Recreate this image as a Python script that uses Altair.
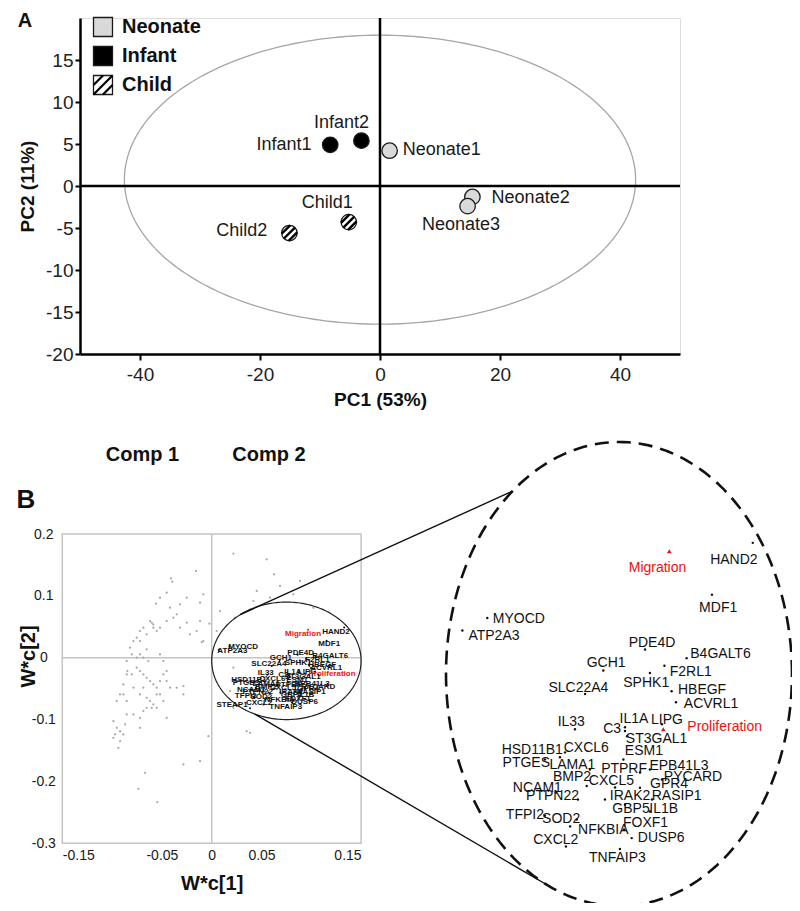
import altair as alt
import numpy as np
import pandas as pd

FONT = "Liberation Sans"

# ---------------- Panel A : PCA score plot ----------------
sample_names = ["Neonate1", "Neonate2", "Neonate3", "Infant1", "Infant2", "Child1", "Child2"]
sample_group = ["Neonate", "Neonate", "Neonate", "Infant", "Infant", "Child", "Child"]
pc1 = [1.6, 15.4, 14.6, -8.3, -3.1, -5.2, -15.1]
pc2 = [4.2, -1.3, -2.4, 4.9, 5.4, -4.3, -5.6]
label_pc1 = [3.8, 18.6, 13.5, -11.4, -6.4, -8.8, -18.8]
label_pc2 = [4.3, -1.4, -4.6, 4.9, 7.5, -2.0, -5.4]
label_side = ["left", "left", "center", "right", "center", "center", "right"]
groups = ["Neonate", "Infant", "Child"]
group_fill = ["#d9d9d9", "#000000", "#ffffff"]
pc1_ticks = [-40, -20, 0, 20, 40]
pc2_ticks = [-20, -15, -10, -5, 0, 5, 10, 15]
A_ELLIPSE = (0.0, 0.75, 42.6, 17.2)  # centre x, centre y, radius x, radius y

# ---------------- Panel B : loadings ----------------
load_x = [-0.0408, -0.0395, -0.0157, -0.0559, -0.0519, -0.0452, -0.0418, -0.0318, -0.0251, -0.0084,
          -0.0117, -0.0619, -0.0602, -0.0586, -0.0686, -0.0720, -0.0753, -0.0786, -0.0720, -0.0653,
          -0.0586, -0.0552, -0.0519, -0.0452, -0.0385, -0.0351, -0.0318, -0.0251, -0.0117, -0.0084,
          -0.0151, -0.0218, -0.0820, -0.0803, -0.0853, -0.0847, -0.0803, -0.0753, -0.0720, -0.0686,
          -0.0653, -0.0619, -0.0586, -0.0552, -0.0519, -0.0485, -0.0452, -0.0418, -0.0686, -0.0720,
          -0.0653, -0.0619, -0.0586, -0.0552, -0.0519, -0.0485, -0.0552, -0.0786, -0.0853, -0.0887,
          -0.0920, -0.0954, -0.0987, -0.0954, -0.0920, -0.0887, -0.0971, -0.0937, -0.0870, -0.0853,
          -0.0786, -0.0720, -0.0686, -0.0653, -0.0602, -0.0284, -0.0351, -0.0452, -0.0853, -0.0887,
          -0.0452, -0.0720, -0.0920, -0.0987, -0.0669, -0.0736, -0.0546, -0.0284, -0.0117, -0.0033,
          -0.0284, -0.0485, -0.0519, -0.0636, -0.0686, -0.0720, -0.0753, -0.0653,
          0.0218, 0.0552, 0.0626, 0.0686, 0.0418, 0.0234, 0.0084, -0.0023, -0.0100, 0.0050,
          0.0218, 0.0351, 0.0385, 0.0218, 0.0184, 0.0586, 0.0887, 0.0820, 0.1021, 0.0452]
load_y = [0.1284, 0.1230, 0.1402, 0.0874, 0.0971, 0.1052, 0.0809, 0.0863, 0.0971, 0.1025,
          0.0890, 0.0593, 0.0566, 0.0539, 0.0485, 0.0432, 0.0324, 0.0270, 0.0270, 0.0378,
          0.0485, 0.0432, 0.0485, 0.0593, 0.0647, 0.0701, 0.0485, 0.0566, 0.0593, 0.0270,
          0.0432, 0.0378, 0.0162, 0.0054, -0.0054, -0.0216, -0.0270, -0.0162, -0.0216, -0.0270,
          -0.0324, -0.0378, -0.0432, -0.0485, -0.0378, -0.0270, -0.0378, -0.0485, -0.0485, -0.0593,
          -0.0647, -0.0701, -0.0755, -0.0809, -0.0593, -0.0701, -0.0593, -0.0485, -0.0701, -0.0593,
          -0.0593, -0.0701, -0.1025, -0.1133, -0.1187, -0.1241, -0.1241, -0.1456, -0.1079, -0.0917,
          -0.0917, -0.0971, -0.0863, -0.0809, -0.0809, -0.0593, -0.0485, -0.0216, -0.0270, -0.0432,
          -0.0971, -0.1133, -0.1348, -0.1295, -0.1861, -0.2120, -0.2335, -0.1726, -0.1672, -0.1268,
          -0.0458, -0.0054, 0.0054, -0.0054, 0.0000, 0.0054, 0.0000, 0.0135,
          0.1683, 0.1591, 0.1348, 0.1160, 0.0917, 0.0647, 0.0755, 0.0550, 0.0254, 0.0432,
          -0.0809, -0.1187, -0.1214, -0.0162, -0.0539, 0.0971, 0.1241, 0.1025, 0.0809, 0.1079]

genes = ["Migration", "HAND2", "MDF1", "MYOCD", "ATP2A3", "PDE4D", "B4GALT6", "GCH1", "F2RL1", "SPHK1",
         "SLC22A4", "HBEGF", "ACVRL1", "IL33", "IL1A", "LIPG", "C3", "Proliferation", "ST3GAL1", "ESM1",
         "CXCL6", "HSD11B1", "PTGES", "LAMA1", "PTPRF", "EPB41L3", "PYCARD", "BMP2", "CXCL5", "GPR4",
         "NCAM1", "PTPN22", "IRAK2", "RASIP1", "GBP5", "IL1B", "TFPI2", "SOD2", "FOXF1", "NFKBIA",
         "DUSP6", "CXCL2", "TNFAIP3"]
gene_x = [0.0968, 0.1330, 0.1153, 0.0179, 0.0071, 0.0863, 0.1043, 0.0682, 0.0947, 0.0884,
          0.0603, 0.0978, 0.0997, 0.0559, 0.0776, 0.0936, 0.0776, 0.0942, 0.0785, 0.0769,
          0.0516, 0.0494, 0.0429, 0.0624, 0.0841, 0.0884, 0.0936, 0.0610, 0.0733, 0.0841,
          0.0477, 0.0572, 0.0689, 0.0893, 0.0776, 0.0884, 0.0429, 0.0538, 0.0772, 0.0567,
          0.0805, 0.0520, 0.0754]
gene_y = [0.0453, 0.0487, 0.0275, 0.0179, 0.0128, 0.0050, 0.0015, -0.0036, -0.0016, -0.0046,
          -0.0132, -0.0121, -0.0166, -0.0276, -0.0268, -0.0256, -0.0283, -0.0276, -0.0305, -0.0400,
          -0.0371, -0.0391, -0.0400, -0.0441, -0.0453, -0.0441, -0.0482, -0.0509, -0.0515, -0.0516,
          -0.0535, -0.0564, -0.0564, -0.0564, -0.0585, -0.0613, -0.0630, -0.0674, -0.0687, -0.0646,
          -0.0722, -0.0756, -0.0767]
gene_label_x = [0.0917, 0.1248, 0.1180, 0.0316, 0.0208, 0.0893, 0.1190, 0.0694, 0.1061, 0.0868,
                0.0574, 0.1110, 0.1149, 0.0543, 0.0815, 0.0958, 0.0720, 0.1208, 0.0913, 0.0858,
                0.0608, 0.0374, 0.0348, 0.0548, 0.0772, 0.1010, 0.1071, 0.0546, 0.0717, 0.0967,
                0.0396, 0.0462, 0.0798, 0.1000, 0.0802, 0.0944, 0.0342, 0.0499, 0.0865, 0.0682,
                0.0933, 0.0476, 0.0743]
gene_label_y = [0.0386, 0.0416, 0.0220, 0.0176, 0.0105, 0.0077, 0.0032, -0.0005, -0.0043, -0.0087,
                -0.0109, -0.0115, -0.0173, -0.0245, -0.0235, -0.0238, -0.0276, -0.0269, -0.0317, -0.0365,
                -0.0351, -0.0361, -0.0416, -0.0424, -0.0441, -0.0427, -0.0471, -0.0471, -0.0489, -0.0502,
                -0.0516, -0.0548, -0.0548, -0.0550, -0.0602, -0.0602, -0.0626, -0.0643, -0.0660, -0.0687,
                -0.0722, -0.0729, -0.0804]
pathways = ["Migration", "Proliferation"]
left_only_genes = ["STEAP1"]
left_only_x = [0.0385]
left_only_y = [-0.0815]
left_only_label_x = [0.0204]
left_only_label_y = [-0.0767]
wx_ticks = [-0.15, -0.05, 0, 0.05, 0.15]
wy_ticks = [-0.3, -0.2, -0.1, 0, 0.1, 0.2]
B_ELLIPSE = (0.075, -0.005, 0.075, 0.095)
CONNECT_ANGLES = [128, 245]

# ---------------- layout (plot area = panel A) ----------------
A_XD, A_XR = [-50, 50], [0, 600]
A_YD, A_YR = [-20, 20], [336, 0]
B_XD, B_XR = [-0.15, 0.15], [-17.7, 281.1]
B_YD, B_YR = [-0.3, 0.2], [825.3, 516.0]
Z_XD, Z_XR = [0.0, 0.15], [366, 712]
Z_YD, Z_YR = [-0.1, 0.09], [888, 424]


def sc(d, r):
    return alt.Scale(domain=d, range=r, zero=False, nice=False)


SAX, SAY = sc(A_XD, A_XR), sc(A_YD, A_YR)
SBX, SBY = sc(B_XD, B_XR), sc(B_YD, B_YR)
SZX, SZY = sc(Z_XD, Z_XR), sc(Z_YD, Z_YR)


def lin(v, d, r):
    return r[0] + (v - d[0]) / (d[1] - d[0]) * (r[1] - r[0])


def ellipse_df(cx, cy, rx, ry, n=240):
    t = np.linspace(0, 2 * np.pi, n + 1)
    return pd.DataFrame({"x": cx + rx * np.cos(t), "y": cy + ry * np.sin(t), "i": np.arange(n + 1)})


def X(f, s, axis=None):
    return alt.X(f, type="quantitative", scale=s, axis=axis)


def Y(f, s, axis=None):
    return alt.Y(f, type="quantitative", scale=s, axis=axis)


layers = []

# ---- Panel A ----
scores = pd.DataFrame({"name": sample_names, "group": sample_group, "pc1": pc1, "pc2": pc2,
                       "lx": label_pc1, "ly": label_pc2, "side": label_side})

layers.append(alt.Chart(ellipse_df(*A_ELLIPSE)).mark_line(color="#a6a6a6", strokeWidth=1.3).encode(
    x=X("x", SAX), y=Y("y", SAY), order="i:Q"))
layers.append(alt.Chart(pd.DataFrame({"x": [0], "y": [A_YD[0]], "y2": [A_YD[1]]})).mark_rule(
    color="black", strokeWidth=2.5).encode(x=X("x", SAX), y=Y("y", SAY), y2="y2"))
layers.append(alt.Chart(pd.DataFrame({"y": [0], "x": [A_XD[0]], "x2": [A_XD[1]]})).mark_rule(
    color="black", strokeWidth=2.5).encode(y=Y("y", SAY), x=X("x", SAX), x2="x2"))

axA_x = alt.Axis(orient="bottom", values=pc1_ticks, grid=False, domainColor="black", domainWidth=2.5,
                 tickColor="black", tickWidth=2, tickSize=6, labelFont=FONT, labelFontSize=19,
                 labelColor="#222222", labelPadding=5, labelExpr="toString(datum.value)",
                 title="PC1 (53%)", titleFont=FONT, titleFontSize=19, titleFontWeight="bold",
                 titleColor="#111111", titlePadding=6)
axA_y = alt.Axis(orient="left", values=pc2_ticks, grid=False, domainColor="black", domainWidth=2.5,
                 tickColor="black", tickWidth=2, tickSize=5, labelFont=FONT, labelFontSize=19,
                 labelColor="#222222", labelPadding=2, labelExpr="toString(datum.value)",
                 title="PC2 (11%)", titleFont=FONT, titleFontSize=19, titleFontWeight="bold",
                 titleColor="#111111", titlePadding=8)
fill_scale = alt.Scale(domain=groups, range=group_fill)
layers.append(alt.Chart(scores).mark_point(shape="circle", filled=True, size=240, stroke="#1a1a1a",
                                           strokeWidth=1.3, opacity=1).encode(
    x=X("pc1", SAX, axA_x), y=Y("pc2", SAY, axA_y),
    fill=alt.Fill("group:N", scale=fill_scale, legend=None)))
HATCH_CIRCLE = "M-0.707,0.707L0.707,-0.707M-0.995,0.095L0.095,-0.995M-0.095,0.995L0.995,-0.095"
layers.append(alt.Chart(scores[scores.group == "Child"]).mark_point(
    shape=HATCH_CIRCLE, filled=False, size=240, color="black", strokeWidth=2.4, opacity=1).encode(
    x=X("pc1", SAX), y=Y("pc2", SAY)))
for side in ["left", "center", "right"]:
    layers.append(alt.Chart(scores[scores.side == side]).mark_text(
        align=side, baseline="middle", font=FONT, fontSize=18, color="#1a1a1a").encode(
        x=X("lx", SAX), y=Y("ly", SAY), text="name:N"))

# legend of panel A
leg = pd.DataFrame({"group": groups})


def leg_y():
    return alt.Y("group:N", scale=alt.Scale(type="point", domain=groups, range=[9, 67], padding=0), axis=None)


layers.append(alt.Chart(leg).mark_point(shape="square", filled=True, size=360, stroke="#1a1a1a",
                                        strokeWidth=1.3, opacity=1).encode(
    x=alt.value(23), y=leg_y(), fill=alt.Fill("group:N", scale=fill_scale, legend=None)))
HATCH_SQ = "M-1,1L1,-1M-1,0L0,-1M0,1L1,0"
layers.append(alt.Chart(leg[leg.group == "Child"]).mark_point(
    shape=HATCH_SQ, filled=False, size=360, color="black", strokeWidth=2.2, opacity=1).encode(
    x=alt.value(23), y=leg_y()))
layers.append(alt.Chart(leg).mark_text(align="left", baseline="middle", font=FONT, fontSize=20,
                                       fontWeight="bold", color="#111111").encode(
    x=alt.value(42), y=leg_y(), text="group:N"))

# ---- Panel B (left loading plot) ----
layers.append(alt.Chart(pd.DataFrame({"x": [B_XD[0]], "x2": [B_XD[1]], "y": [B_YD[0]], "y2": [B_YD[1]]})).mark_rect(
    fillOpacity=0, stroke="#c4c4c4", strokeWidth=1.5).encode(
    x=X("x", SBX), x2="x2", y=Y("y", SBY), y2="y2"))
layers.append(alt.Chart(pd.DataFrame({"x": [0], "y": [B_YD[0]], "y2": [B_YD[1]]})).mark_rule(
    color="#c4c4c4", strokeWidth=1.5).encode(x=X("x", SBX), y=Y("y", SBY), y2="y2"))
layers.append(alt.Chart(pd.DataFrame({"y": [0], "x": [B_XD[0]], "x2": [B_XD[1]]})).mark_rule(
    color="#c4c4c4", strokeWidth=1.5).encode(y=Y("y", SBY), x=X("x", SBX), x2="x2"))

axB_x = alt.Axis(orient="bottom", offset=489.3, values=wx_ticks, grid=False, domain=False, ticks=False,
                 tickSize=0, labelFont=FONT, labelFontSize=14, labelColor="#1a1a1a", labelPadding=5,
                 labelExpr="toString(datum.value)", title="W*c[1]", titleFont=FONT, titleFontSize=20,
                 titleFontWeight="bold", titleColor="#111111", titlePadding=11)
axB_y = alt.Axis(orient="left", offset=17.7, values=wy_ticks, grid=False, domain=False, ticks=False,
                 tickSize=0, labelFont=FONT, labelFontSize=14, labelColor="#1a1a1a", labelPadding=19,
                 labelAlign="center", labelExpr="toString(datum.value)", title="W*c[2]", titleFont=FONT,
                 titleFontSize=20, titleFontWeight="bold", titleColor="#111111",
                 titleX=-34, titleY=638, titleBaseline="middle")
loads = pd.DataFrame({"x": load_x, "y": load_y})
layers.append(alt.Chart(loads).mark_circle(size=5, color="#a8a8a8", opacity=1).encode(
    x=X("x", SBX, axB_x), y=Y("y", SBY, axB_y)))

layers.append(alt.Chart(ellipse_df(*B_ELLIPSE)).mark_line(color="#222222", strokeWidth=1.2).encode(
    x=X("x", SBX), y=Y("y", SBY), order="i:Q"))

gdf = pd.DataFrame({"gene": genes, "x": gene_x, "y": gene_y, "lx": gene_label_x, "ly": gene_label_y,
                    "kind": ["pathway" if g in pathways else "gene" for g in genes]})
kind_color = alt.Scale(domain=["gene", "pathway"], range=["#111111", "#ee1111"])
layers.append(alt.Chart(gdf).mark_circle(size=4, opacity=1).encode(
    x=X("x", SBX), y=Y("y", SBY), color=alt.Color("kind:N", scale=kind_color, legend=None)))
layers.append(alt.Chart(gdf).mark_text(font=FONT, fontSize=8, fontWeight="bold", baseline="middle").encode(
    x=X("lx", SBX), y=Y("ly", SBY), text="gene:N",
    color=alt.Color("kind:N", scale=kind_color, legend=None)))
ldf = pd.DataFrame({"gene": left_only_genes, "x": left_only_x, "y": left_only_y,
                    "lx": left_only_label_x, "ly": left_only_label_y})
layers.append(alt.Chart(ldf).mark_circle(size=4, color="#111111", opacity=1).encode(
    x=X("x", SBX), y=Y("y", SBY)))
layers.append(alt.Chart(ldf).mark_text(font=FONT, fontSize=8, fontWeight="bold", baseline="middle",
                                       color="#111111").encode(
    x=X("lx", SBX), y=Y("ly", SBY), text="gene:N"))

# ---- connectors between the small ellipse and the magnified view ----
cx, cy, rx, ry = B_ELLIPSE
for ang in CONNECT_ANGLES:
    a = np.deg2rad(ang)
    dx, dy = cx + rx * np.cos(a), cy + ry * np.sin(a)
    layers.append(alt.Chart(pd.DataFrame({"k": [0]})).mark_rule(color="#111111", strokeWidth=1.4).encode(
        x=alt.value(float(lin(dx, B_XD, B_XR))), y=alt.value(float(lin(dy, B_YD, B_YR))),
        x2=alt.value(float(lin(dx, Z_XD, Z_XR))), y2=alt.value(float(lin(dy, Z_YD, Z_YR)))))

# ---- magnified view ----
layers.append(alt.Chart(ellipse_df(*B_ELLIPSE)).mark_line(color="#111111", strokeWidth=2.6,
                                                          strokeDash=[14, 8]).encode(
    x=X("x", SZX), y=Y("y", SZY), order="i:Q"))
layers.append(alt.Chart(gdf[gdf.kind == "gene"]).mark_circle(size=6, color="#111111", opacity=1).encode(
    x=X("x", SZX), y=Y("y", SZY)))
layers.append(alt.Chart(gdf[gdf.kind == "pathway"]).mark_point(shape="triangle-up", filled=True, size=22,
                                                               color="#ee1111", opacity=1).encode(
    x=X("x", SZX), y=Y("y", SZY)))
layers.append(alt.Chart(gdf).mark_text(font=FONT, fontSize=14, baseline="middle").encode(
    x=X("lx", SZX), y=Y("ly", SZY), text="gene:N",
    color=alt.Color("kind:N", scale=kind_color, legend=None)))


# ---- panel letters and component headings ----
def label(txt, x, y, size, align="center"):
    return alt.Chart(pd.DataFrame({"t": [txt]})).mark_text(
        font=FONT, fontSize=size, fontWeight="bold", color="#111111", align=align, baseline="middle").encode(
        x=alt.value(x), y=alt.value(y), text="t:N")


layers.append(label("A", -55, 3, 20))
layers.append(label("B", -54, 482, 26))
layers.append(label("Comp 1", 62.5, 437, 20))
layers.append(label("Comp 2", 189, 437, 20))

chart = alt.layer(*layers).resolve_scale(
    x="independent", y="independent", fill="independent", color="independent"
).properties(
    width=600, height=336,
    padding={"left": 72, "top": 10, "right": 112, "bottom": 549},
    autosize=alt.AutoSizeParams(type="none"),
    background="white",
).configure_view(stroke=None).configure(font=FONT)

chart.save("out.html", embed_options={"renderer": "svg", "actions": False})
